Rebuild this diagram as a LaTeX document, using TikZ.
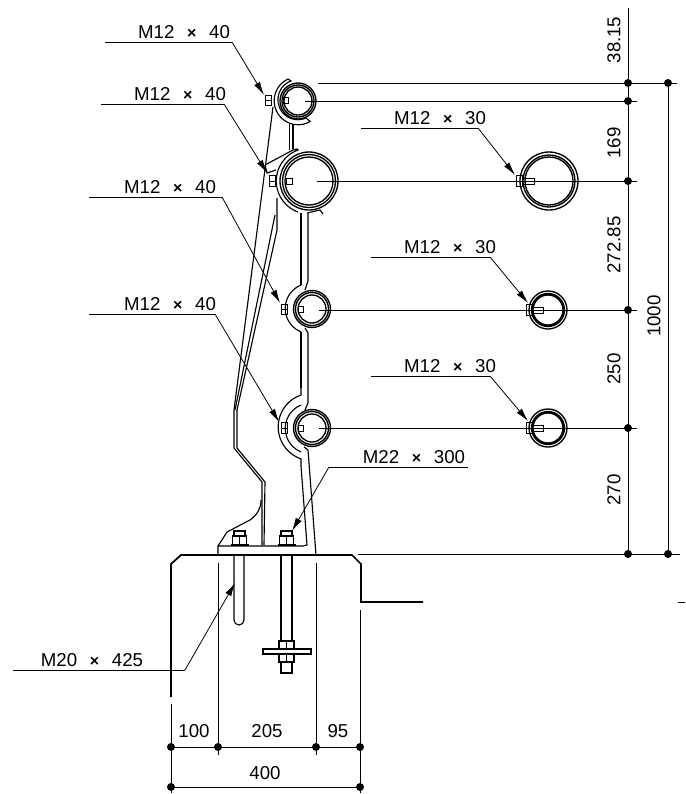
\documentclass[tikz,border=0pt]{standalone}
\usepackage{fontspec}
\setmainfont{Liberation Sans}
\usetikzlibrary{arrows.meta}
\newcommand{\tms}{\hspace{0.68em}\textbf{\fontsize{12}{12}\selectfont ×}\hspace{0.68em}}
\tikzset{
  thinl/.style={line width=0.6pt},
  part/.style={line width=0.85pt},
  ring/.style={line width=1pt},
  conc/.style={line width=1.3pt},
  leader/.style={line width=0.6pt, -{Latex[length=10pt,width=5pt]}},
  lbl/.style={font=\fontsize{14}{14}\selectfont, inner sep=0},
  dim/.style={font=\fontsize{14}{14}\selectfont, inner sep=0, rotate=90},
  dimdot/.style={circle, fill=black, inner sep=0, minimum size=6pt}
}
\begin{document}
\begin{tikzpicture}[x=0.75pt, y=-0.75pt]
\useasboundingbox (0,0) rectangle (686,794);
% Pipes:
\foreach \px/\py/\ra/\rb/\rc in {298/101/18/16/14, 309/181/29/26.5/24, 312/309/18.5/16.5/14, 312/428/18.5/16.5/14, 549/181/29/26/24, 548/310/19/16.5/15, 548/428/19/16.5/15}
  \draw[ring] (\px,\py) circle (\ra) circle (\rb) circle (\rc);
% Clamps:
\draw[part] (288,79) arc (245:60:24) -- (306,118) arc (66:250:20) -- cycle;
\draw[part] (265,165) -- (293,150) -- (297,149) -- (298,150) arc (250:110:33);
\draw[part] (265,165) -- (267,173) -- (276,170);
\draw[part] (307,213) -- (320,210) -- (323,214);
\draw[part] (301,285) arc (248:112:25.3);
\draw[part] (301,405) arc (248:112:25.3);
\draw[part] (301,388) -- (301,395) arc (251:109:33.8) -- (301,466);
% Post:
\draw[part] (289.5,124) -- (289.5,150);
\draw[part] (293,124) -- (293,149);
\draw[part] (301,213) -- (301,285);
\draw[part] (308,213) -- (308,281) -- (305,290);
\draw[part] (301,332) -- (301,388);
\draw[part] (305,328) -- (308,333) -- (308,403) -- (305,410);
\draw[part] (304,447) -- (308,450) -- (316,555);
\draw[part] (301,466) -- (307,545) -- (303,546) -- (218,546) -- (218,555);
% Left strut:
\draw[part] (234,410) -- (273,107);
\draw[part] (235,410) -- (275,215);
\draw[part] (237,410) -- (277,230) -- (277,198);
\draw[part] (234,410) -- (234,448) -- (262,482) -- (262,545);
\draw[part] (237,410) -- (237,448) -- (265,482) -- (264,545);
\draw[part] (218,546) -- (227,532) -- (250,520) .. controls (258,514) and (261,508) .. (261,500);
% Nuts:
\foreach \nx/\ny/\nh/\tx/\tw in {265/100/10/283/5, 269/181/11/286/6, 281/309/10/298/5, 281/428/11/298/5, 516/181/11/522/12, 526/310/11/532/11, 526/428/11/532/11}{
  \draw[thinl] (\nx,\ny-\nh/2) rectangle ++(6,\nh);
  \draw[thinl] (\nx,\ny) -- ++(6,0);
  \draw[thinl] (\tx,\ny-3) rectangle ++(\tw,6);
}
% Base bolts:
\foreach \bx in {239.5,286.5}{
  \draw[part] (\bx-7,536) rectangle (\bx+7,545);
  \draw[part] (\bx-9,545) -- (\bx+9,545);
  \draw[thinl] (\bx,536) -- (\bx,545);
  \draw[part] (\bx-5.5,536) -- (\bx-5.5,531) -- (\bx+5.5,531) -- (\bx+5.5,536);
}
\draw[part] (234,555) -- (234,620) arc (180:0:5) -- (244,555);
\draw[part] (281,555) -- (281,673) -- (292,673) -- (292,555);
\draw[part,fill=white] (279,641) rectangle (294,662);
\draw[thinl] (286.5,641) -- (286.5,662);
\draw[part,fill=white] (263,649) rectangle (311,654);
% Foundation:
\draw[conc] (171,697) -- (171,564) -- (181,555) -- (352,555) -- (361,564) -- (361,602) -- (423,602);
% Dimension dots:
\foreach \dn/\dx/\dy in {da/628/83, db/628/101, dc/628/181, dd/628/310, de/628/428, df/628/554, dg/668/83, dh/668/554, ba/171/747, bb/218/747, bc/316/747, bd/360/747, ca/171/787, cd/360/787}
  \node[dimdot] (\dn) at (\dx,\dy) {};
\coordinate (top) at (628,8);
\coordinate (ea) at (318,83);
\coordinate (eaa) at (677,83);
\coordinate (eb) at (305,101);
\coordinate (ebb) at (637,101);
\coordinate (ec) at (317,181);
\coordinate (ecc) at (637,181);
\coordinate (ed) at (319,310);
\coordinate (edd) at (637,310);
\coordinate (ee) at (319,428);
\coordinate (eee) at (637,428);
\coordinate (ef) at (358,554);
\coordinate (eff) at (680,554);
\draw[thinl] (ea) -- (eaa);
\draw[thinl] (eb) -- (ebb);
\draw[thinl] (ec) -- (ecc);
\draw[thinl] (ed) -- (edd);
\draw[thinl] (ee) -- (eee);
\draw[thinl] (ef) -- (eff);
\draw[thinl] (top) -- (df.center);
\draw[thinl] (dg.center) -- (dh.center);
\draw[thinl] (678,602) -- (685,602);
% Foot extensions:
\draw[thinl] (171,704) -- (171,793);
\draw[thinl] (218,563) -- (218,755);
\draw[thinl] (316,563) -- (316,755);
\draw[thinl] (360,610) -- (360,793);
\draw[thinl] (ba.center) -- (bd.center);
\draw[thinl] (ca.center) -- (cd.center);
% Dimension texts:
\node[dim] (t1) at (614,40) {38.15};
\node[dim] (t2) at (614,143) {169};
\node[dim] (t3) at (614,245) {272.85};
\node[dim] (t4) at (614,369) {250};
\node[dim] (t5) at (614,490) {270};
\node[dim] (t6) at (654,316) {1000};
\node[lbl] (t7) at (194,731) {100};
\node[lbl] (t8) at (267,731) {205};
\node[lbl] (t9) at (338,731) {95};
\node[lbl] (t10) at (265,773) {400};
% Leaders:
\foreach \ln/\lt/\lx/\ly/\ax/\bx/\by/\tx/\ty in {
  la/M12\tms 40/184/32/105/232/42/264/95,
  lb/M12\tms 40/180/94/101/224/104/267/173,
  lc/M12\tms 40/170/187/89/222/197/280/303,
  ld/M12\tms 40/170/304/89/215/314/279/422,
  le/M12\tms 30/440/118/361/478/128/515/175,
  lf/M12\tms 30/450/247/371/490/257/528/303,
  lg/M12\tms 30/450/366/371/490/376/528/421,
  lh/M22\tms 300/414/457/329/468/467/292/531}{
  \node[lbl] (\ln) at (\lx,\ly) {\lt};
  \coordinate (\ln s) at (\ax,\by);
  \coordinate (\ln k) at (\bx,\by);
  \coordinate (\ln e) at (\tx,\ty);
}
\draw[thinl] (las) -- (lak);
\draw[leader] (lak) -- (lae);
\draw[thinl] (lbs) -- (lbk);
\draw[leader] (lbk) -- (lbe);
\draw[thinl] (lcs) -- (lck);
\draw[leader] (lck) -- (lce);
\draw[thinl] (lds) -- (ldk);
\draw[leader] (ldk) -- (lde);
\draw[thinl] (les) -- (lek);
\draw[leader] (lek) -- (lee);
\draw[thinl] (lfs) -- (lfk);
\draw[leader] (lfk) -- (lfe);
\draw[thinl] (lgs) -- (lgk);
\draw[leader] (lgk) -- (lge);
\draw[thinl] (lhk) -- (lhs);
\draw[leader] (lhs) -- (lhe);
\node[lbl] (li) at (92,660) {M20\tms 425};
\coordinate (lis) at (13,670);
\coordinate (lik) at (185,670);
\coordinate (lie) at (235,583);
\draw[thinl] (lis) -- (lik);
\draw[leader] (lik) -- (lie);
\end{tikzpicture}
\end{document}
